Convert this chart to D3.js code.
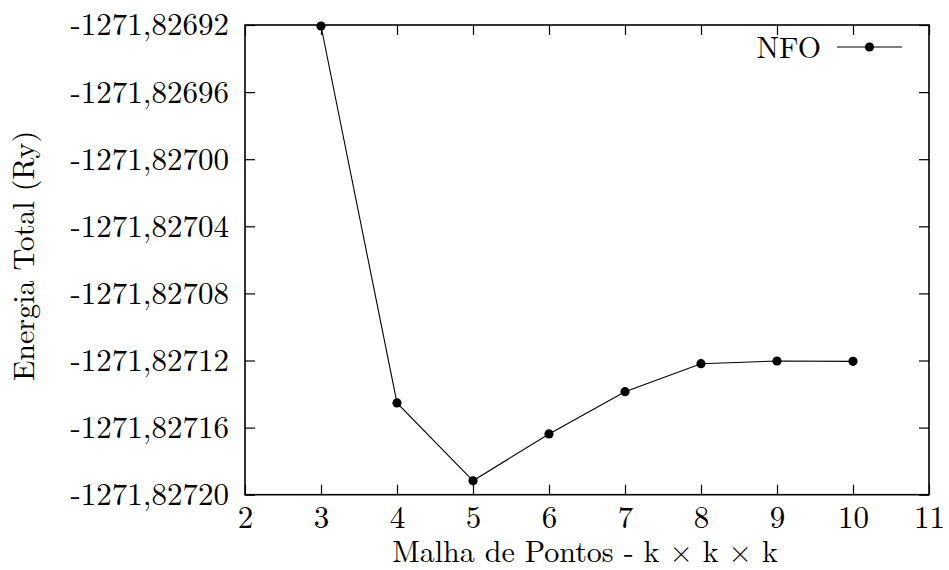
<!DOCTYPE html>
<html>
<head>
<meta charset="utf-8">
<script src="https://cdn.jsdelivr.net/npm/d3@7/dist/d3.min.js"></script>
<style>
  html, body { margin: 0; padding: 0; background: #fff; }
  svg { display: block; }
</style>
</head>
<body>
<svg id="chart" width="949" height="570"></svg>
<script>
// k-point mesh sizes and total energies (Ry)
const meshK = [3, 4, 5, 6, 7, 8, 9, 10];
const energyNFO = [-1271.8269206, -1271.8271453, -1271.8271917, -1271.8271638,
                   -1271.8271386, -1271.8271219, -1271.8271203, -1271.8271205];
const xTicks = [2, 3, 4, 5, 6, 7, 8, 9, 10, 11];
const yTicks = [-1271.82692, -1271.82696, -1271.82700, -1271.82704,
                -1271.82708, -1271.82712, -1271.82716, -1271.82720];
const seriesName = "NFO";

const FONT = '"Latin Modern Roman", "Liberation Serif", serif';
const FS_TICK = 31;
const FS_TITLE = 30;
const R_DOT = 4.6;

const svg = d3.select("#chart");
const m = { left: 245, right: 929, top: 25, bottom: 494.7 };

const x = d3.scaleLinear().domain([2, 11]).range([m.left, m.right]);
const y = d3.scaleLinear().domain([-1271.82720, -1271.82692]).range([m.bottom, m.top]);

const fmtY = v => v.toFixed(5).replace(".", ",");
const tickLen = 10;

// bottom and top axes (ticks point inward)
svg.append("g").attr("transform", `translate(0,${m.bottom})`)
  .call(d3.axisBottom(x).tickValues(xTicks).tickSize(-tickLen).tickPadding(11).tickFormat(d3.format("d")))
  .call(g => g.select(".domain").remove());
svg.append("g").attr("transform", `translate(0,${m.top})`)
  .call(d3.axisTop(x).tickValues(xTicks).tickSize(-tickLen).tickFormat(""))
  .call(g => g.select(".domain").remove());

// left and right axes
svg.append("g").attr("transform", `translate(${m.left},0)`)
  .call(d3.axisLeft(y).tickValues(yTicks).tickSize(-tickLen).tickPadding(16).tickFormat(fmtY))
  .call(g => g.select(".domain").remove());
svg.append("g").attr("transform", `translate(${m.right},0)`)
  .call(d3.axisRight(y).tickValues(yTicks).tickSize(-tickLen).tickFormat(""))
  .call(g => g.select(".domain").remove());

svg.selectAll(".tick line").attr("stroke", "#000").attr("stroke-width", 1.2);
svg.selectAll(".tick text")
  .style("font-family", FONT).style("font-size", FS_TICK + "px").attr("fill", "#000");

// plot frame
svg.append("rect")
  .attr("x", m.left).attr("y", m.top)
  .attr("width", m.right - m.left).attr("height", m.bottom - m.top)
  .attr("fill", "none").attr("stroke", "#000").attr("stroke-width", 1.6);

// data line and markers
const pts = meshK.map((k, i) => [k, energyNFO[i]]);
svg.append("path").datum(pts)
  .attr("fill", "none").attr("stroke", "#000").attr("stroke-width", 1.1)
  .attr("d", d3.line().x(d => x(d[0])).y(d => y(d[1])));
svg.append("g").selectAll("circle").data(pts).join("circle")
  .attr("cx", d => x(d[0])).attr("cy", d => y(d[1])).attr("r", R_DOT).attr("fill", "#000");

// legend
const lgY = 47;
const legend = svg.append("g").attr("class", "legend");
legend.append("text").attr("x", 821).attr("y", lgY).attr("dy", "0.35em")
  .attr("text-anchor", "end").text(seriesName);
legend.append("line").attr("x1", 837).attr("x2", 902).attr("y1", lgY).attr("y2", lgY)
  .attr("stroke", "#000").attr("stroke-width", 1.1);
legend.append("circle").attr("cx", 869.5).attr("cy", lgY).attr("r", R_DOT).attr("fill", "#000");

// axis titles
const titles = svg.append("g").attr("class", "titles");
titles.append("text").attr("x", 585).attr("y", 562)
  .attr("text-anchor", "middle").text("Malha de Pontos - k × k × k");
titles.append("text")
  .attr("transform", "translate(34,256) rotate(-90)")
  .attr("text-anchor", "middle").text("Energia Total (Ry)");

svg.selectAll(".legend text, .titles text")
  .style("font-family", FONT).style("font-size", FS_TITLE + "px").attr("fill", "#000");
</script>
</body>
</html>
